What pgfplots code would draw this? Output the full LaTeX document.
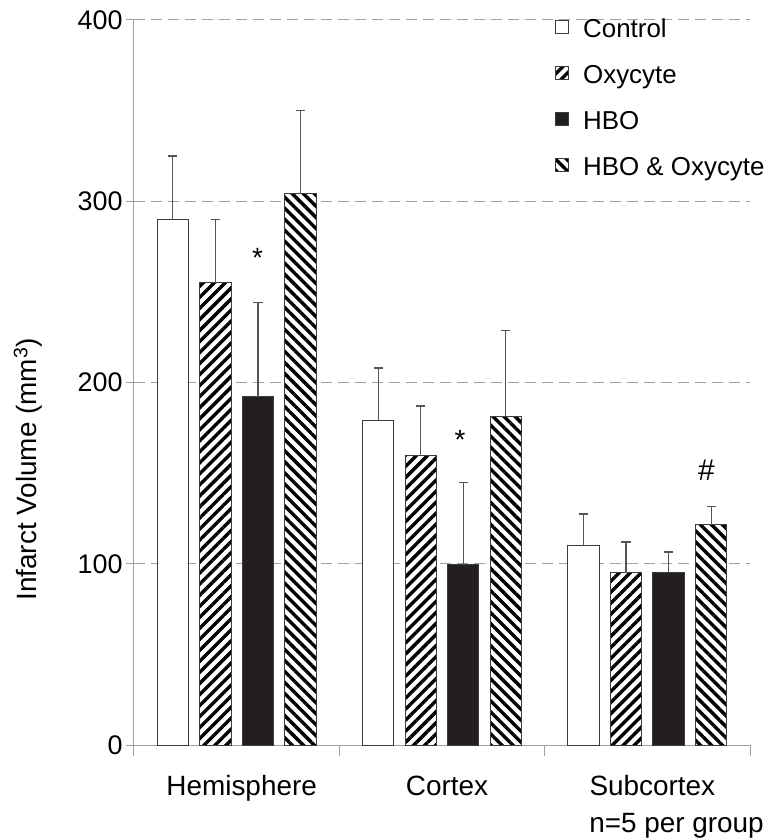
\documentclass[border=0pt]{standalone}
\usepackage{pgfplots}
\pgfplotsset{compat=1.18}
\usepackage{pgfplotstable}
\usepackage{fontspec}
\setmainfont{Liberation Sans}
\usetikzlibrary{patterns.meta}

\definecolor{axisgray}{RGB}{160,160,160}
\definecolor{errgray}{RGB}{85,85,85}
\definecolor{barblack}{RGB}{35,31,32}
\definecolor{edge}{RGB}{60,60,60}

% x: 0 Hemisphere, 1 Cortex, 2 Subcortex; e = upper error
\pgfplotstableread{
x y e
0 290 35
1 179 29
2 110 17.5
}\control
\pgfplotstableread{
x y e
0 255 35
1 159.5 27.5
2 95 17
}\oxycyte
\pgfplotstableread{
x y e
0 192 52
1 99.5 45.5
2 95 11.5
}\hbo
\pgfplotstableread{
x y e
0 304 46
1 181.5 47
2 121.5 10
}\hbooxy

\pgfplotsset{
  errs/.style={error bars/.cd, y dir=plus, y explicit,
    error bar style={errgray, line width=1.2bp},
    error mark options={rotate=90, errgray, line width=1.2bp, mark size=4.6bp}},
}

\begin{document}
\begin{tikzpicture}
\begin{axis}[name=ax, scale only axis, width=616bp, height=725bp,
  ybar, bar width=31.3bp,
  xmin=-0.5, xmax=2.5, ymin=0, ymax=400,
  axis x line*=bottom, axis y line*=left,
  axis line style={axisgray, line width=1bp},
  xtick={0,1,2}, xticklabels={Hemisphere,Cortex,Subcortex},
  minor xtick={-0.5,0.5,1.5,2.5},
  ytick={0,100,200,300,400},
  tick align=outside, major tick length=8bp, minor tick length=11bp,
  tick style={axisgray, line width=1bp},
  major x tick style={draw=none},
  ymajorgrids, grid style={axisgray, line width=1bp, dash pattern=on 11bp off 6bp},
  /pgf/number format/assume math mode=true,
  yticklabel style={font=\fontsize{27}{30}\selectfont},
  xticklabel style={font=\fontsize{28}{32}\selectfont, xshift=5bp, yshift=-19bp},
  ylabel={Infarct Volume (mm\textsuperscript{3})},
  ylabel style={font=\fontsize{28}{32}\selectfont, at={(axis description cs:-0.172,0.38)}, anchor=center},
  clip=false,
  legend cell align=left,
  legend image code/.code={\draw[#1, line width=1bp] (0bp,-2.4bp) rectangle (13bp,10.6bp);},
  legend style={draw=none, fill=none, inner sep=0pt, row sep=21bp,
    font=\fontsize{26}{30}\selectfont,
    nodes={inner sep=0pt, text height=19bp, text depth=6bp},
    /tikz/every odd column/.append style={column sep=14bp},
    at={(axis description cs:0.6834,1)}, anchor=north west, yshift=1.5bp},
]
\addplot[bar shift=-63.8bp, draw=edge, line width=1bp, fill=white, errs]
  table[x=x, y=y, y error=e] {\control};
\addplot[bar shift=-21.3bp, draw=edge, line width=1bp, fill=white,
  postaction={pattern={Lines[angle=45, distance=7.8bp, line width=3.4bp]}}, errs]
  table[x=x, y=y, y error=e] {\oxycyte};
\addplot[bar shift=21.3bp, draw=edge, line width=1bp, fill=barblack, errs]
  table[x=x, y=y, y error=e] {\hbo};
\addplot[bar shift=63.8bp, draw=edge, line width=1bp, fill=white,
  postaction={pattern={Lines[angle=-45, distance=7.8bp, line width=3.4bp]}}, errs]
  table[x=x, y=y, y error=e] {\hbooxy};
\legend{Control, Oxycyte, HBO, HBO \& Oxycyte}

\node[font=\fontsize{28}{30}\selectfont, anchor=base, xshift=21bp] at (axis cs:0,263.5) {*};
\node[font=\fontsize{28}{30}\selectfont, anchor=base, xshift=18bp] at (axis cs:1,162.8) {*};
\node[font=\fontsize{30}{32}\selectfont, anchor=base, xshift=59bp] at (axis cs:2,146) {\#};
\end{axis}
\node[font=\fontsize{28}{32}\selectfont, anchor=base east, inner sep=0pt]
  at ([shift={(14bp,-87bp)}]ax.south east) {n=5 per group};
\pgfresetboundingbox
\path ([shift={(-134bp,-94bp)}]ax.south west) rectangle ([shift={(17bp,20bp)}]ax.north east);
\end{tikzpicture}
\end{document}
